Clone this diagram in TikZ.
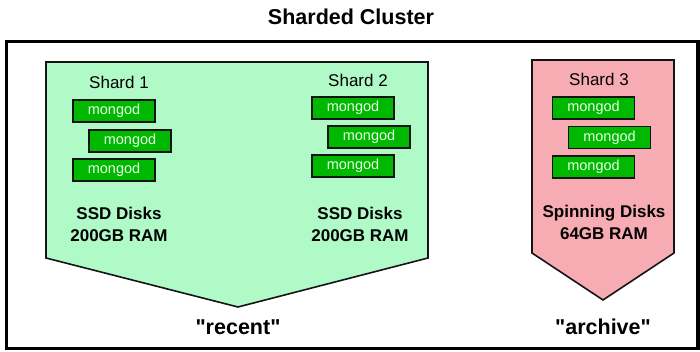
\documentclass[tikz,border=0pt]{standalone}
\usepackage{fontspec}
\setmainfont{Liberation Sans}[Ligatures=TeXOff]
\definecolor{lgreen}{RGB}{176,250,200}
\definecolor{pinkf}{RGB}{247,172,180}
\definecolor{mgreen}{RGB}{0,184,0}
\definecolor{mtext}{RGB}{232,255,232}
\definecolor{edge}{RGB}{20,20,20}
\begin{document}
\begin{tikzpicture}[x=1pt,y=-1pt,
  mongo/.style={draw=edge, line width=1.8pt, fill=mgreen, text=mtext,
    minimum width=82pt, minimum height=22pt, inner sep=0pt,
    font=\fontsize{14.5}{16}\selectfont},
  shardlbl/.style={font=\fontsize{17}{19}\selectfont, inner sep=0pt},
  disklbl/.style={font=\bfseries\fontsize{17}{22}\selectfont, align=center, inner sep=0pt},
  biglbl/.style={font=\bfseries\fontsize{21.5}{24}\selectfont, inner sep=0pt},
  zone/.style={draw=edge, line width=1.6pt, line join=miter}]
\useasboundingbox (0,0) rectangle (700,352);
% title
\node[biglbl] (title) at (351,17) {Sharded Cluster};
% outer frame
\draw[line width=3.5pt, draw=black] (6.5,41.5) rectangle (698,348.5);
% zones
\draw[zone, fill=lgreen] (46,62) -- (428,62) -- (428,258) -- (238,307) -- (46,258) -- cycle;
\draw[zone, fill=pinkf] (532,60) -- (674,60) -- (674,253) -- (603,300) -- (532,253) -- cycle;
% shard 1
\node[shardlbl] (s1) at (119,82) {Shard 1};
\node[mongo] (m11) at (114,111) {mongod};
\node[mongo] (m12) at (130,141) {mongod};
\node[mongo] (m13) at (114,170) {mongod};
\node[disklbl] (d1) at (119,224) {SSD Disks\\200GB RAM};
% shard 2
\node[shardlbl] (s2) at (358,80) {Shard 2};
\node[mongo] (m21) at (353,108) {mongod};
\node[mongo] (m22) at (369,137) {mongod};
\node[mongo] (m23) at (353,166) {mongod};
\node[disklbl] (d2) at (360,224) {SSD Disks\\200GB RAM};
% shard 3
\node[shardlbl] (s3) at (599,79) {Shard 3};
\node[mongo] (m31) at (593.5,108) {mongod};
\node[mongo] (m32) at (609.5,137.5) {mongod};
\node[mongo] (m33) at (593.5,167) {mongod};
\node[disklbl] (d3) at (604,222) {Spinning Disks\\64GB RAM};
% bottom labels
\node[biglbl] (recent) at (238,327) {"recent"};
\node[biglbl] (archive) at (603,327) {"archive"};
\end{tikzpicture}
\end{document}
